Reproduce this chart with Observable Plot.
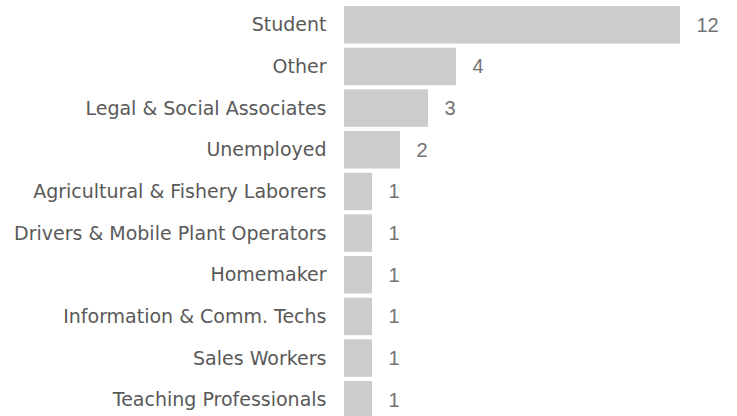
<!DOCTYPE html>
<html>
<head>
<meta charset="utf-8">
<script src="https://cdn.jsdelivr.net/npm/d3@7"></script>
<script src="https://cdn.jsdelivr.net/npm/@observablehq/plot@0.6"></script>
<style>
  html, body { margin: 0; padding: 0; background: #ffffff; }
</style>
</head>
<body>
<div id="chart"></div>
<script>
const categories = [
  "Student",
  "Other",
  "Legal & Social Associates",
  "Unemployed",
  "Agricultural & Fishery Laborers",
  "Drivers & Mobile Plant Operators",
  "Homemaker",
  "Information & Comm. Techs",
  "Sales Workers",
  "Teaching Professionals"
];
const counts = [12, 4, 3, 2, 1, 1, 1, 1, 1, 1];

const data = categories.map((c, i) => ({category: c, count: counts[i]}));

const chart = Plot.plot({
  width: 737,
  height: 416,
  marginLeft: 344,
  marginRight: 57,
  marginTop: 0,
  marginBottom: 0,
  x: {domain: [0, 12], range: [344, 680], axis: null},
  y: {domain: categories, range: [1.9, 422.6], padding: 0.1, round: false, axis: null},
  style: {background: "#ffffff"},
  marks: [
    Plot.barX(data, {x: "count", y: "category", fill: "#cccccc"}),
    Plot.text(data, {
      x: 0, y: "category", text: "category",
      textAnchor: "end", dx: -18,
      fill: "#595959", fontSize: 19, fontFamily: "DejaVu Sans"
    }),
    Plot.text(data, {
      x: "count", y: "category", text: d => String(d.count),
      textAnchor: "start", dx: 16,
      fill: "#737373", fontSize: 20, fontFamily: "Liberation Sans"
    })
  ]
});
document.getElementById("chart").appendChild(chart);
</script>
</body>
</html>
